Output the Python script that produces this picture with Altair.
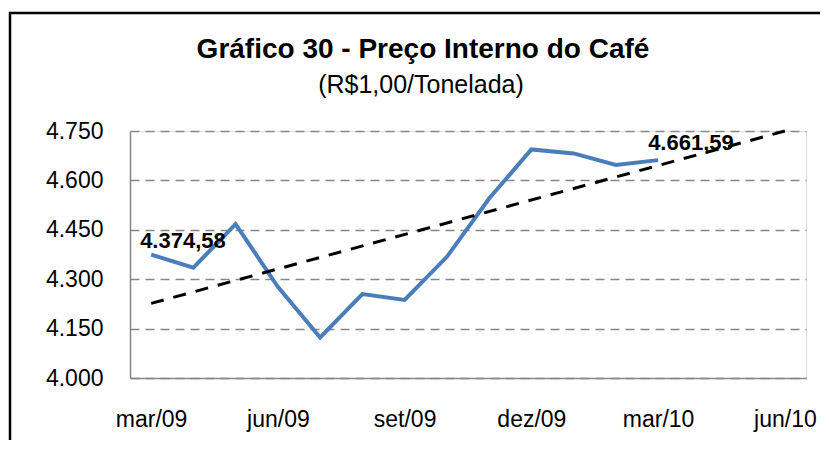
import altair as alt
import pandas as pd

MONTHS = ["mar/09", "abr/09", "mai/09", "jun/09", "jul/09", "ago/09", "set/09",
          "out/09", "nov/09", "dez/09", "jan/10", "fev/10", "mar/10"]
PRICES = [4374.58, 4335, 4467, 4277, 4123, 4255, 4237,
          4368, 4545, 4694, 4682, 4647, 4661.59]
TICK_LABELS = ["mar/09", "jun/09", "set/09", "dez/09", "mar/10", "jun/10"]
Y_TICKS = [4000, 4150, 4300, 4450, 4600, 4750]
TITLE = "Gráfico 30 - Preço Interno do Café"
SUBTITLE = "(R$1,00/Tonelada)"

TICK_STEP = 3
tick_vals = [i * TICK_STEP for i in range(len(TICK_LABELS))]
x_end = tick_vals[-1]

df = pd.DataFrame({"mes": MONTHS, "idx": list(range(len(MONTHS))), "preco": PRICES})

W, H = 676, 247
FONT = "Liberation Sans"
GREY = "#868686"

label_js = "[" + ",".join(f"'{t}'" for t in TICK_LABELS) + "]"

x_enc = alt.X(
    "idx:Q",
    scale=alt.Scale(domain=[-0.5, x_end + 0.5], nice=False, zero=False),
    axis=alt.Axis(values=tick_vals, labelExpr=f"{label_js}[datum.value/{TICK_STEP}]",
                  title=None, grid=False, ticks=False, domainColor=GREY, domainWidth=1.5,
                  labelPadding=30, labelFontSize=23, labelColor="black", labelFont=FONT,
                  labelFlush=False, labelOverlap=False),
)
y_enc = alt.Y(
    "preco:Q",
    scale=alt.Scale(domain=[Y_TICKS[0], Y_TICKS[-1]], nice=False, zero=False),
    axis=alt.Axis(values=Y_TICKS, labelExpr="replace(format(datum.value, ',.0f'), ',', '.')",
                  title=None, ticks=False, grid=True, gridDash=[9, 6], gridColor=GREY,
                  gridWidth=1.5, domainColor=GREY, domainWidth=1.5, labelPadding=27,
                  labelFontSize=23, labelColor="black", labelFont=FONT,
                  labelFlush=False, labelOverlap=False),
)

base = alt.Chart(df)

frame = alt.Chart(pd.DataFrame({"f": [0]})).mark_rect(
    filled=False, stroke="black", strokeWidth=2.5
).encode(x=alt.value(-120), x2=alt.value(W + 60), y=alt.value(-118), y2=alt.value(H + 120))

title_df = pd.DataFrame({"t": [TITLE], "s": [SUBTITLE]})
title_mark = alt.Chart(title_df).mark_text(
    align="center", baseline="alphabetic", fontSize=28, fontWeight="bold", font=FONT,
    color="black"
).encode(x=alt.value(293), y=alt.value(-73), text="t:N")
subtitle_mark = alt.Chart(title_df).mark_text(
    align="center", baseline="alphabetic", fontSize=25, font=FONT, color="black"
).encode(x=alt.value(291), y=alt.value(-38), text="s:N")

line = base.mark_line(color="#4A7EBB", strokeWidth=4).encode(x=x_enc, y=y_enc)

trend = base.transform_regression(
    "idx", "preco", method="linear", extent=[0, x_end]
).mark_line(color="black", strokeWidth=3, strokeDash=[13, 10]).encode(x="idx:Q", y="preco:Q")

fmt = "replace(replace(replace(format(datum.preco, ',.2f'), ',', '#'), '.', ','), '#', '.')"
lab = base.transform_calculate(lbl=fmt)
lab_first = lab.transform_filter(alt.datum.idx == 0).mark_text(
    align="left", baseline="alphabetic", dx=-11, dy=-7, fontSize=22, fontWeight="bold",
    font=FONT, color="black"
).encode(x="idx:Q", y="preco:Q", text="lbl:N")
lab_last = lab.transform_filter(alt.datum.idx == len(MONTHS) - 1).mark_text(
    align="left", baseline="alphabetic", dx=-10, dy=-10, fontSize=22, fontWeight="bold",
    font=FONT, color="black"
).encode(x="idx:Q", y="preco:Q", text="lbl:N")

chart = alt.layer(frame, title_mark, subtitle_mark, line, lab_first, lab_last, trend).properties(
    width=W, height=H,
    autosize=alt.AutoSizeParams(type="none"),
    padding={"left": 122, "top": 123, "right": 14, "bottom": 62},
).configure_view(stroke=None).configure(background="white")

chart.save("out.html", embed_options={"renderer": "svg", "actions": False})
